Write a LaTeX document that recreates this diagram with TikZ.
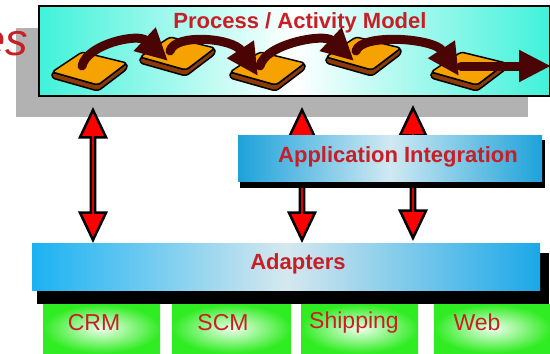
\documentclass[tikz,border=0pt]{standalone}
\usepackage{fontspec}
\setmainfont{Liberation Sans}
\usetikzlibrary{arrows.meta, shapes.arrows}
\definecolor{txtred}{RGB}{200,30,38}
\definecolor{aqua}{RGB}{64,242,218}
\definecolor{barblue}{RGB}{29,162,218}
\definecolor{barpale}{RGB}{208,233,242}
\definecolor{appgreen}{RGB}{48,236,34}
\definecolor{tileorange}{RGB}{246,162,0}
\definecolor{tilebrown}{RGB}{140,58,8}
\definecolor{maroon}{RGB}{74,4,4}
\tikzset{>=latex,
  title/.style={font=\bfseries\fontsize{22}{24}\selectfont, text=txtred, anchor=base, inner sep=0pt},
  applabel/.style={font=\fontsize{23}{25}\selectfont, text=txtred, anchor=base, inner sep=0pt},
  appbox/.style={anchor=north west, minimum height=49pt, inner sep=0pt,
    inner color={rgb,255:red,238;green,255;blue,236}, outer color=appgreen},
  flow/.style={maroon, line width=9pt, line cap=round, -{Triangle[length=32pt,width=30pt]}},
  dblarrow/.style={double arrow, draw=black, fill=red, line width=2.5pt, inner sep=0pt,
    minimum height=130pt, minimum width=26pt, double arrow head extend=6.25pt,
    double arrow tip angle=51},
  tile/.pic={
    \filldraw[fill=tilebrown, line width=1.5pt, rounded corners=3pt]
      (2,20) -- (2,26) -- (48,39) -- (77,17) -- (77,11) -- (48,33) -- cycle;
    \filldraw[fill=tileorange, line width=1.5pt, rounded corners=3pt]
      (2,20) -- (32,0) -- (77,11) -- (48,33) -- cycle;
    \coordinate (-in) at (30,24);
    \coordinate (-out) at (32,14);
  }
}

\begin{document}
\begin{tikzpicture}[x=1pt, y=-1pt]
\useasboundingbox (0,0) rectangle (550,354);
\clip (0,0) rectangle (550,354);
% process / activity model
\fill[black!30] (16,28) rectangle (528,117);
\node[draw, line width=1.5pt, anchor=north west, minimum width=511pt, minimum height=90pt,
  left color=aqua, right color=aqua, middle color=white] (model) at (38,5) {};
\node[font=\itshape\fontsize{45}{48}\selectfont, text=txtred, anchor=base east, inner sep=0pt] (cut) at (28,55) {es};
\node[title] (modeltxt) at (300,28) {Process / Activity Model};
\pic (t1) at (50,52) {tile};
\pic (t2) at (138,37) {tile};
\pic (t3) at (228,52) {tile};
\pic (t4) at (324,37) {tile};
\pic (t5) at (429,52) {tile};
\coordinate (flowend) at (551,66);
\draw[flow] (t1-out) .. controls +(5,-22) and +(-30,-28) .. (t2-in);
\draw[flow] (t2-out) .. controls +(5,-18) and +(-25,-38) .. (t3-in);
\draw[flow] (t3-out) .. controls +(5,-22) and +(-30,-28) .. (t4-in);
\draw[flow] (t4-out) .. controls +(5,-18) and +(-25,-38) .. (t5-in);
\draw[flow] (t5-out) -- (flowend);
% red links
\coordinate (u1) at (93,107);  \coordinate (d1) at (93,243);
\coordinate (u2) at (302,107); \coordinate (d2) at (302,243);
\coordinate (u3) at (413,105); \coordinate (d3) at (413,241);
\foreach \i in {1,2,3}
  \path (u\i) -- node[dblarrow, sloped] (link\i) {} (d\i);
% application integration
\fill[black] (240,140) rectangle (545,188);
\node[anchor=north west, minimum width=304pt, minimum height=46pt, inner sep=0pt,
  left color=barblue, right color=barblue, middle color=barpale] (appint) at (238,135) {};
\node[title] (appinttxt) at (398,162) {Application Integration};
% adapters
\fill[black] (37,253) rectangle (549,304);
\node[anchor=north west, minimum width=508pt, minimum height=47pt, inner sep=0pt,
  left color={rgb,255:red,27;green,178;blue,242}, right color={rgb,255:red,27;green,168;blue,232},
  middle color={rgb,255:red,214;green,232;blue,238}] (adapters) at (32,243) {};
\node[title] (adapterstxt) at (298,269) {Adapters};
% applications
\node[appbox, minimum width=117pt] (crm) at (43,304) {};
\node[appbox, minimum width=119pt] (scm) at (172,304) {};
\node[appbox, minimum width=117pt] (ship) at (301,304) {};
\node[appbox, minimum width=117pt] (web) at (434,304) {};
\node[applabel] (crmtxt) at (94,330) {CRM};
\node[applabel] (scmtxt) at (223,330) {SCM};
\node[applabel] (shiptxt) at (354,328) {Shipping};
\node[applabel] (webtxt) at (477,330) {Web};
\end{tikzpicture}
\end{document}
